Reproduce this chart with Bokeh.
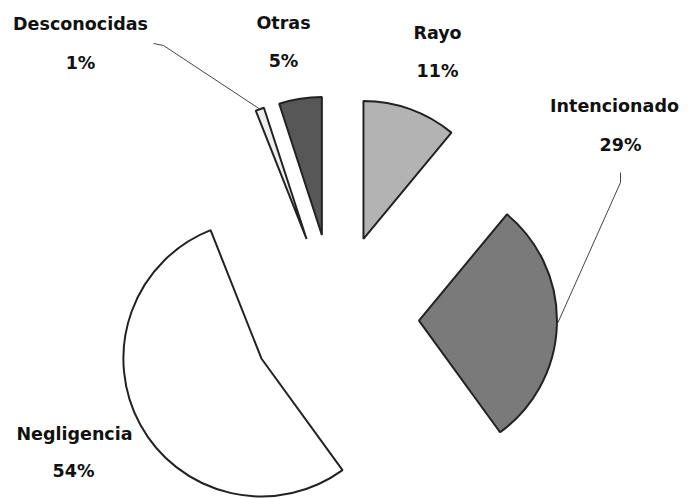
import math
from bokeh.plotting import figure
from bokeh.models import Range1d
from bokeh.core.properties import value
from bokeh.embed import file_html
from bokeh.resources import INLINE

# ---- data ----
categories = ["Rayo", "Intencionado", "Negligencia", "Desconocidas", "Otras"]
percents = [11, 29, 54, 1, 5]
pct_labels = ["11%", "29%", "54%", "1%", "5%"]
colors = ["#b3b3b3", "#7a7a7a", "#ffffff", "#eeeeee", "#575757"]

# ---- layout / style ----
W, H = 688, 499
CX, CY = 334.5, H - 317.5  # pie centre (data units == pixels)
R = 138                    # radius
EXPLODE = 84               # explode distance
FONT = value("DejaVu Sans")
FSIZE = "17.5px"
# label anchor positions (pixel coords, top-left origin): name, percent
label_pos = {
    "Rayo": ((437, 32), (437, 70)),
    "Intencionado": ((614, 105), (620, 144)),
    "Negligencia": ((74, 433), (73, 470)),
    "Desconocidas": ((80, 23), (80, 62)),
    "Otras": ((283, 22), (283, 60)),
}

p = figure(width=W, height=H, output_backend="svg", toolbar_location=None,
           x_range=Range1d(0, W), y_range=Range1d(0, H), min_border=0)
p.axis.visible = False
p.grid.visible = False
p.outline_line_color = None
p.background_fill_color = "white"

total = float(sum(percents))
cum = 0.0
apexes = {}
for cat, pc, col in zip(categories, percents, colors):
    b1 = 360.0 * cum / total          # bearing clockwise from north
    b2 = 360.0 * (cum + pc) / total
    cum += pc
    bm = math.radians((b1 + b2) / 2)
    ax = CX + EXPLODE * math.sin(bm)
    ay = CY + EXPLODE * math.cos(bm)
    apexes[cat] = (ax, ay, bm)
    p.wedge(x=[ax], y=[ay], radius=R,
            start_angle=[math.radians(90 - b2)], end_angle=[math.radians(90 - b1)],
            direction="anticlock", fill_color=col, line_color="#222222", line_width=2)

# leader lines
ax, ay, bm = apexes["Desconocidas"]
ex, ey = ax + R * math.sin(bm), ay + R * math.cos(bm)
p.line(x=[153, 163, ex], y=[H - 43, H - 45, ey], line_color="#444444", line_width=1)
ax, ay, bm = apexes["Intencionado"]
ex, ey = ax + R * math.sin(bm), ay + R * math.cos(bm)
p.line(x=[620, 620, ex], y=[H - 172, H - 182, ey], line_color="#444444", line_width=1)

for cat, pl in zip(categories, pct_labels):
    (nx, ny), (px_, py_) = label_pos[cat]
    p.text(x=[nx], y=[H - ny], text=[cat], text_font=FONT, text_font_size=FSIZE,
           text_font_style="bold", text_align="center", text_baseline="middle",
           text_color="#111111")
    p.text(x=[px_], y=[H - py_], text=[pl], text_font=FONT, text_font_size=FSIZE,
           text_font_style="bold", text_align="center", text_baseline="middle",
           text_color="#111111")

open("out.html", "w").write(file_html(p, INLINE))
